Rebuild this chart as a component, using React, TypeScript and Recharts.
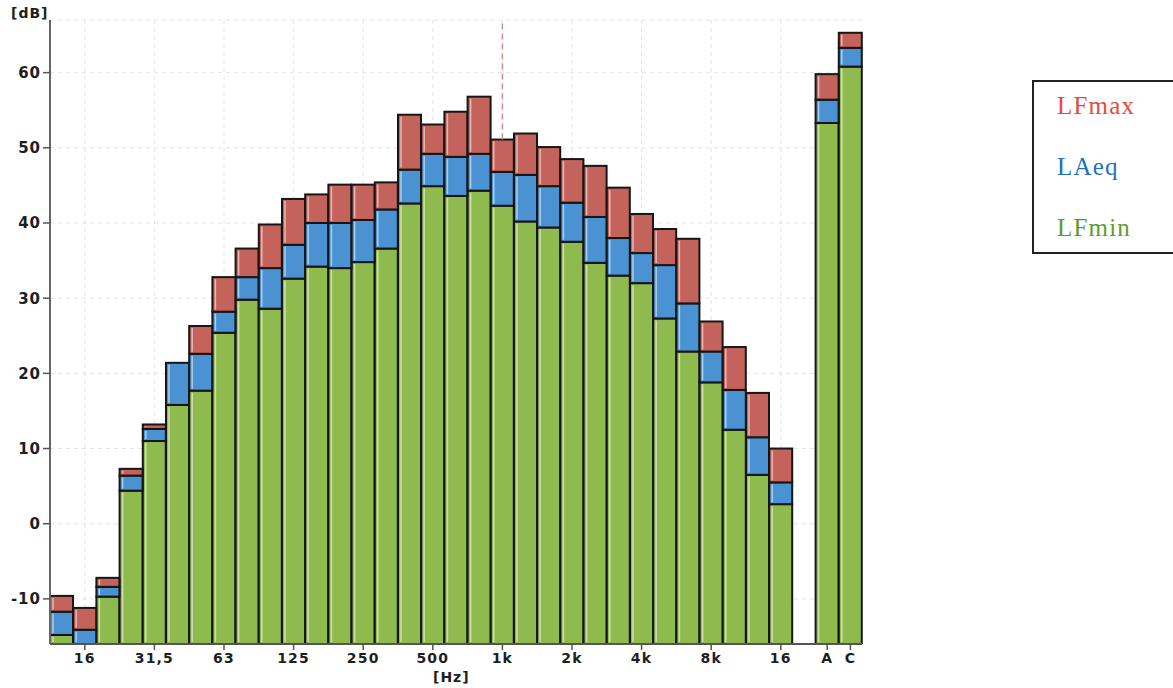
import React from 'react';
import { BarChart, Bar, XAxis, YAxis, CartesianGrid, ReferenceLine } from 'recharts';

// third-octave bands, then an empty slot, then the A and C totals
const bands = [
  '12.5', '16', '20', '25', '31.5', '40', '50', '63', '80', '100',
  '125', '160', '200', '250', '315', '400', '500', '630', '800', '1k',
  '1.25k', '1.6k', '2k', '2.5k', '3.15k', '4k', '5k', '6.3k', '8k', '10k',
  '12.5k', '16k', 'gap', 'A', 'C',
];

const tickLabels = [
  '', '16', '', '', '31,5', '', '', '63', '', '',
  '125', '', '', '250', '', '', '500', '', '', '1k',
  '', '', '2k', '', '', '4k', '', '', '8k', '',
  '', '16', '', 'A', 'C',
];

const lfMin = [
  -14.8, -16, -9.7, 4.4, 11.0, 15.8, 17.7, 25.4, 29.8, 28.6,
  32.6, 34.2, 34.0, 34.8, 36.6, 42.6, 44.9, 43.6, 44.3, 42.3,
  40.2, 39.4, 37.5, 34.7, 33.0, 32.0, 27.3, 22.9, 18.8, 12.5,
  6.5, 2.6, null, 53.3, 60.8,
];

const laEq = [
  -11.7, -14.1, -8.4, 6.4, 12.6, 21.4, 22.6, 28.2, 32.8, 34.0,
  37.1, 40.0, 40.0, 40.4, 41.8, 47.1, 49.2, 48.8, 49.2, 46.8,
  46.4, 44.9, 42.7, 40.8, 38.0, 36.0, 34.4, 29.3, 22.9, 17.8,
  11.5, 5.5, null, 56.4, 63.3,
];

const lfMax = [
  -9.6, -11.2, -7.2, 7.3, 13.2, 21.4, 26.3, 32.8, 36.6, 39.8,
  43.2, 43.8, 45.1, 45.1, 45.4, 54.4, 53.1, 54.8, 56.8, 51.1,
  51.9, 50.1, 48.5, 47.6, 44.7, 41.2, 39.2, 37.9, 26.9, 23.5,
  17.4, 10.0, null, 59.8, 65.3,
];

const yTicks = [-10, 0, 10, 20, 30, 40, 50, 60];
const Y_MIN = -16;
const Y_MAX = 67;
const CURSOR_BAND = '1k';

const data = bands.map((band, i) => ({
  band,
  min: lfMin[i] == null ? null : [Y_MIN, lfMin[i]],
  aeq: laEq[i] == null ? null : [lfMin[i], laEq[i]],
  max: lfMax[i] == null ? null : [laEq[i], lfMax[i]],
}));

// band indexes that get a faint vertical grid line
const gridIdx = tickLabels.map((t, i) => (t && i < 32 ? i : -1)).filter((i) => i >= 0);

const labelFont = '"DejaVu Sans", Verdana, sans-serif';

const XTick = (props: any) => {
  const { x, y, payload } = props;
  const label = tickLabels[payload.index];
  if (!label) return null;
  return (
    <g>
      <line x1={x} x2={x} y1={y - 8} y2={y - 2} stroke="#555" strokeWidth={1.5} />
      <text
        x={x}
        y={y}
        dy="0.75em"
        textAnchor="middle"
        fill="#1e1e1e"
        fontFamily={labelFont}
        fontWeight="bold"
        fontSize={14}
        letterSpacing={1.2}
      >
        {label}
      </text>
    </g>
  );
};

const YTick = (props: any) => {
  const { x, y, payload } = props;
  return (
    <text
      x={x}
      y={y}
      dy="0.36em"
      textAnchor="end"
      fill="#1e1e1e"
      fontFamily={labelFont}
      fontWeight="bold"
      fontSize={15}
      letterSpacing={1}
    >
      {payload.value}
    </text>
  );
};

// segment with black outline and the pale highlight along its left edge
const makeSegment = (fill: string) => (props: any) => {
  const { x, y, width, height } = props;
  if (width == null || height == null) return null;
  const top = Math.min(y, y + height);
  const h = Math.abs(height);
  return (
    <g>
      <rect x={x} y={top} width={width} height={h} fill={fill} stroke="#161616" strokeWidth={2} />
      {h > 4 && (
        <line
          x1={x + 3}
          x2={x + 3}
          y1={top + 2}
          y2={top + h - 2}
          stroke="rgba(255,255,255,0.55)"
          strokeWidth={1.5}
        />
      )}
    </g>
  );
};

// grid lines at the centre of the labelled bands
const verticalGrid = (args: any) => {
  const off = args && args.offset;
  if (!off || off.width == null || off.left == null) return [];
  const step = off.width / bands.length;
  return gridIdx.map((i) => off.left + (i + 0.5) * step);
};

const legendItems = [
  { name: 'LFmax', color: '#e8493c' },
  { name: 'LAeq', color: '#1f6fc6' },
  { name: 'LFmin', color: '#5f9b2b' },
];

export default function App() {
  const cursorIdx = bands.indexOf(CURSOR_BAND);
  return (
    <div
      style={{
        position: 'fixed',
        left: 0,
        top: 0,
        width: 1173,
        height: 688,
        overflow: 'hidden',
        background: '#fff',
      }}
    >
      <div
        style={{
          position: 'absolute',
          left: 11,
          top: 5,
          fontFamily: labelFont,
          fontWeight: 'bold',
          fontSize: 14,
          color: '#1e1e1e',
          letterSpacing: 1,
        }}
      >
        [dB]
      </div>
      <div
        style={{
          position: 'absolute',
          left: 433,
          top: 669,
          fontFamily: labelFont,
          fontWeight: 'bold',
          fontSize: 14,
          color: '#1e1e1e',
          letterSpacing: 1,
        }}
      >
        [Hz]
      </div>

      <BarChart
        width={900}
        height={688}
        data={data}
        margin={{ top: 20, right: 38, left: 0, bottom: 14 }}
        barCategoryGap={0}
        barGap={0}
        style={{ position: 'absolute', left: 0, top: 0 }}
      >
        <CartesianGrid
          stroke="#dfe5ec"
          strokeDasharray="4 4"
          verticalCoordinatesGenerator={verticalGrid}
        />
        <XAxis
          dataKey="band"
          interval={0}
          height={30}
          tickSize={6}
          tickMargin={2}
          tickLine={false}
          tick={<XTick />}
          axisLine={{ stroke: '#555', strokeWidth: 2 }}
        />
        <XAxis xAxisId="aeq" dataKey="band" hide />
        <XAxis xAxisId="max" dataKey="band" hide />
        <YAxis
          width={50}
          domain={[Y_MIN, Y_MAX]}
          ticks={yTicks}
          allowDataOverflow
          tickSize={7}
          tickMargin={2}
          tick={<YTick />}
          tickLine={{ stroke: '#555', strokeWidth: 1.5 }}
          axisLine={{ stroke: '#666', strokeWidth: 2 }}
        />
        <Bar dataKey="min" fill="#8fba4e" shape={makeSegment('#8fba4e')} isAnimationActive={false} />
        <Bar xAxisId="aeq" dataKey="aeq" fill="#4a92d2" shape={makeSegment('#4a92d2')} isAnimationActive={false} />
        <Bar xAxisId="max" dataKey="max" fill="#c4635b" shape={makeSegment('#c4635b')} isAnimationActive={false} />
        <ReferenceLine
          segment={[
            { x: CURSOR_BAND, y: lfMax[cursorIdx] },
            { x: CURSOR_BAND, y: Y_MAX },
          ]}
          stroke="#d98a8a"
          strokeDasharray="6 4"
          strokeWidth={1.5}
        />
      </BarChart>

      <div
        style={{
          position: 'absolute',
          left: 1032,
          top: 80,
          width: 170,
          height: 174,
          border: '2px solid #222',
          boxSizing: 'border-box',
          background: '#fff',
        }}
      >
        {legendItems.map((item, i) => (
          <div
            key={item.name}
            style={{
              position: 'absolute',
              left: 23,
              top: 10 + i * 61,
              fontFamily: '"Liberation Serif", "Times New Roman", serif',
              fontSize: 25,
              letterSpacing: 1.2,
              color: item.color,
            }}
          >
            {item.name}
          </div>
        ))}
      </div>
    </div>
  );
}
